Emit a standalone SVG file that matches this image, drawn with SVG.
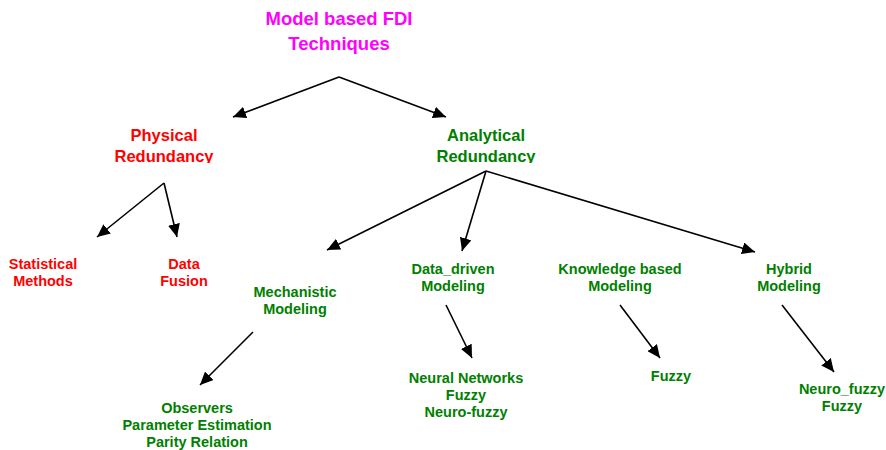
<svg xmlns="http://www.w3.org/2000/svg" width="886" height="450" viewBox="0 0 886 450">
<style>
text{font-family:"Liberation Sans",Arial,sans-serif;font-weight:bold;text-anchor:middle}
.t{fill:#FF00FF;font-size:18.5px}
.r{fill:#FF0000}
.g{fill:#008000}
.h2{font-size:16.5px}
.h3{font-size:14.5px}
.c line{stroke:#000;stroke-width:1.6;marker-end:url(#ah)}
</style>
<defs>
<marker id="ah" markerUnits="userSpaceOnUse" markerWidth="14" markerHeight="12" refX="13" refY="6" orient="auto">
<path d="M0,0 L13,6 L0,12 Z" fill="#000"/>
</marker>
<clipPath id="clipPR"><rect x="0" y="0" width="886" height="163"/></clipPath>
</defs>
<rect width="886" height="450" fill="#fff"/>
<g id="n-root"><text class="t" x="339" y="25">Model based FDI</text><text class="t" x="339" y="50">Techniques</text></g>
<g id="n-physical" clip-path="url(#clipPR)"><text class="r h2" x="164" y="141">Physical</text><text class="r h2" x="164" y="162">Redundancy</text></g>
<g id="n-analytical" clip-path="url(#clipPR)"><text class="g h2" x="486" y="141">Analytical</text><text class="g h2" x="486" y="162">Redundancy</text></g>
<g id="n-statistical"><text class="r h3" x="43" y="269">Statistical</text><text class="r h3" x="43" y="286">Methods</text></g>
<g id="n-fusion"><text class="r h3" x="184" y="269">Data</text><text class="r h3" x="184" y="286">Fusion</text></g>
<g id="n-mechanistic"><text class="g h3" x="295" y="297">Mechanistic</text><text class="g h3" x="295" y="314">Modeling</text></g>
<g id="n-datadriven"><text class="g h3" x="453" y="274">Data_driven</text><text class="g h3" x="453" y="291">Modeling</text></g>
<g id="n-knowledge"><text class="g h3" x="620" y="274">Knowledge based</text><text class="g h3" x="620" y="291">Modeling</text></g>
<g id="n-hybrid"><text class="g h3" x="789" y="274">Hybrid</text><text class="g h3" x="789" y="291">Modeling</text></g>
<g id="n-observers"><text class="g h3" x="197" y="413">Observers</text><text class="g h3" x="197" y="430">Parameter Estimation</text><text class="g h3" x="197" y="447">Parity Relation</text></g>
<g id="n-neural"><text class="g h3" x="466" y="383">Neural Networks</text><text class="g h3" x="466" y="400">Fuzzy</text><text class="g h3" x="466" y="417">Neuro-fuzzy</text></g>
<g id="n-fuzzy"><text class="g h3" x="671" y="381">Fuzzy</text></g>
<g id="n-neurofuzzy"><text class="g h3" x="842" y="394">Neuro_fuzzy</text><text class="g h3" x="842" y="411">Fuzzy</text></g>
<g id="connectors" class="c">
<line x1="339" y1="77" x2="233" y2="117"/>
<line x1="339" y1="77" x2="446" y2="117"/>
<line x1="164" y1="183" x2="97" y2="237"/>
<line x1="164" y1="183" x2="177" y2="237"/>
<line x1="486" y1="171" x2="327" y2="250"/>
<line x1="486" y1="171" x2="462" y2="251"/>
<line x1="486" y1="171" x2="755" y2="252"/>
<line x1="253" y1="332" x2="200" y2="385"/>
<line x1="446" y1="305" x2="472" y2="358"/>
<line x1="620" y1="305" x2="660" y2="358"/>
<line x1="782" y1="305" x2="834" y2="372"/>
</g>
</svg>
